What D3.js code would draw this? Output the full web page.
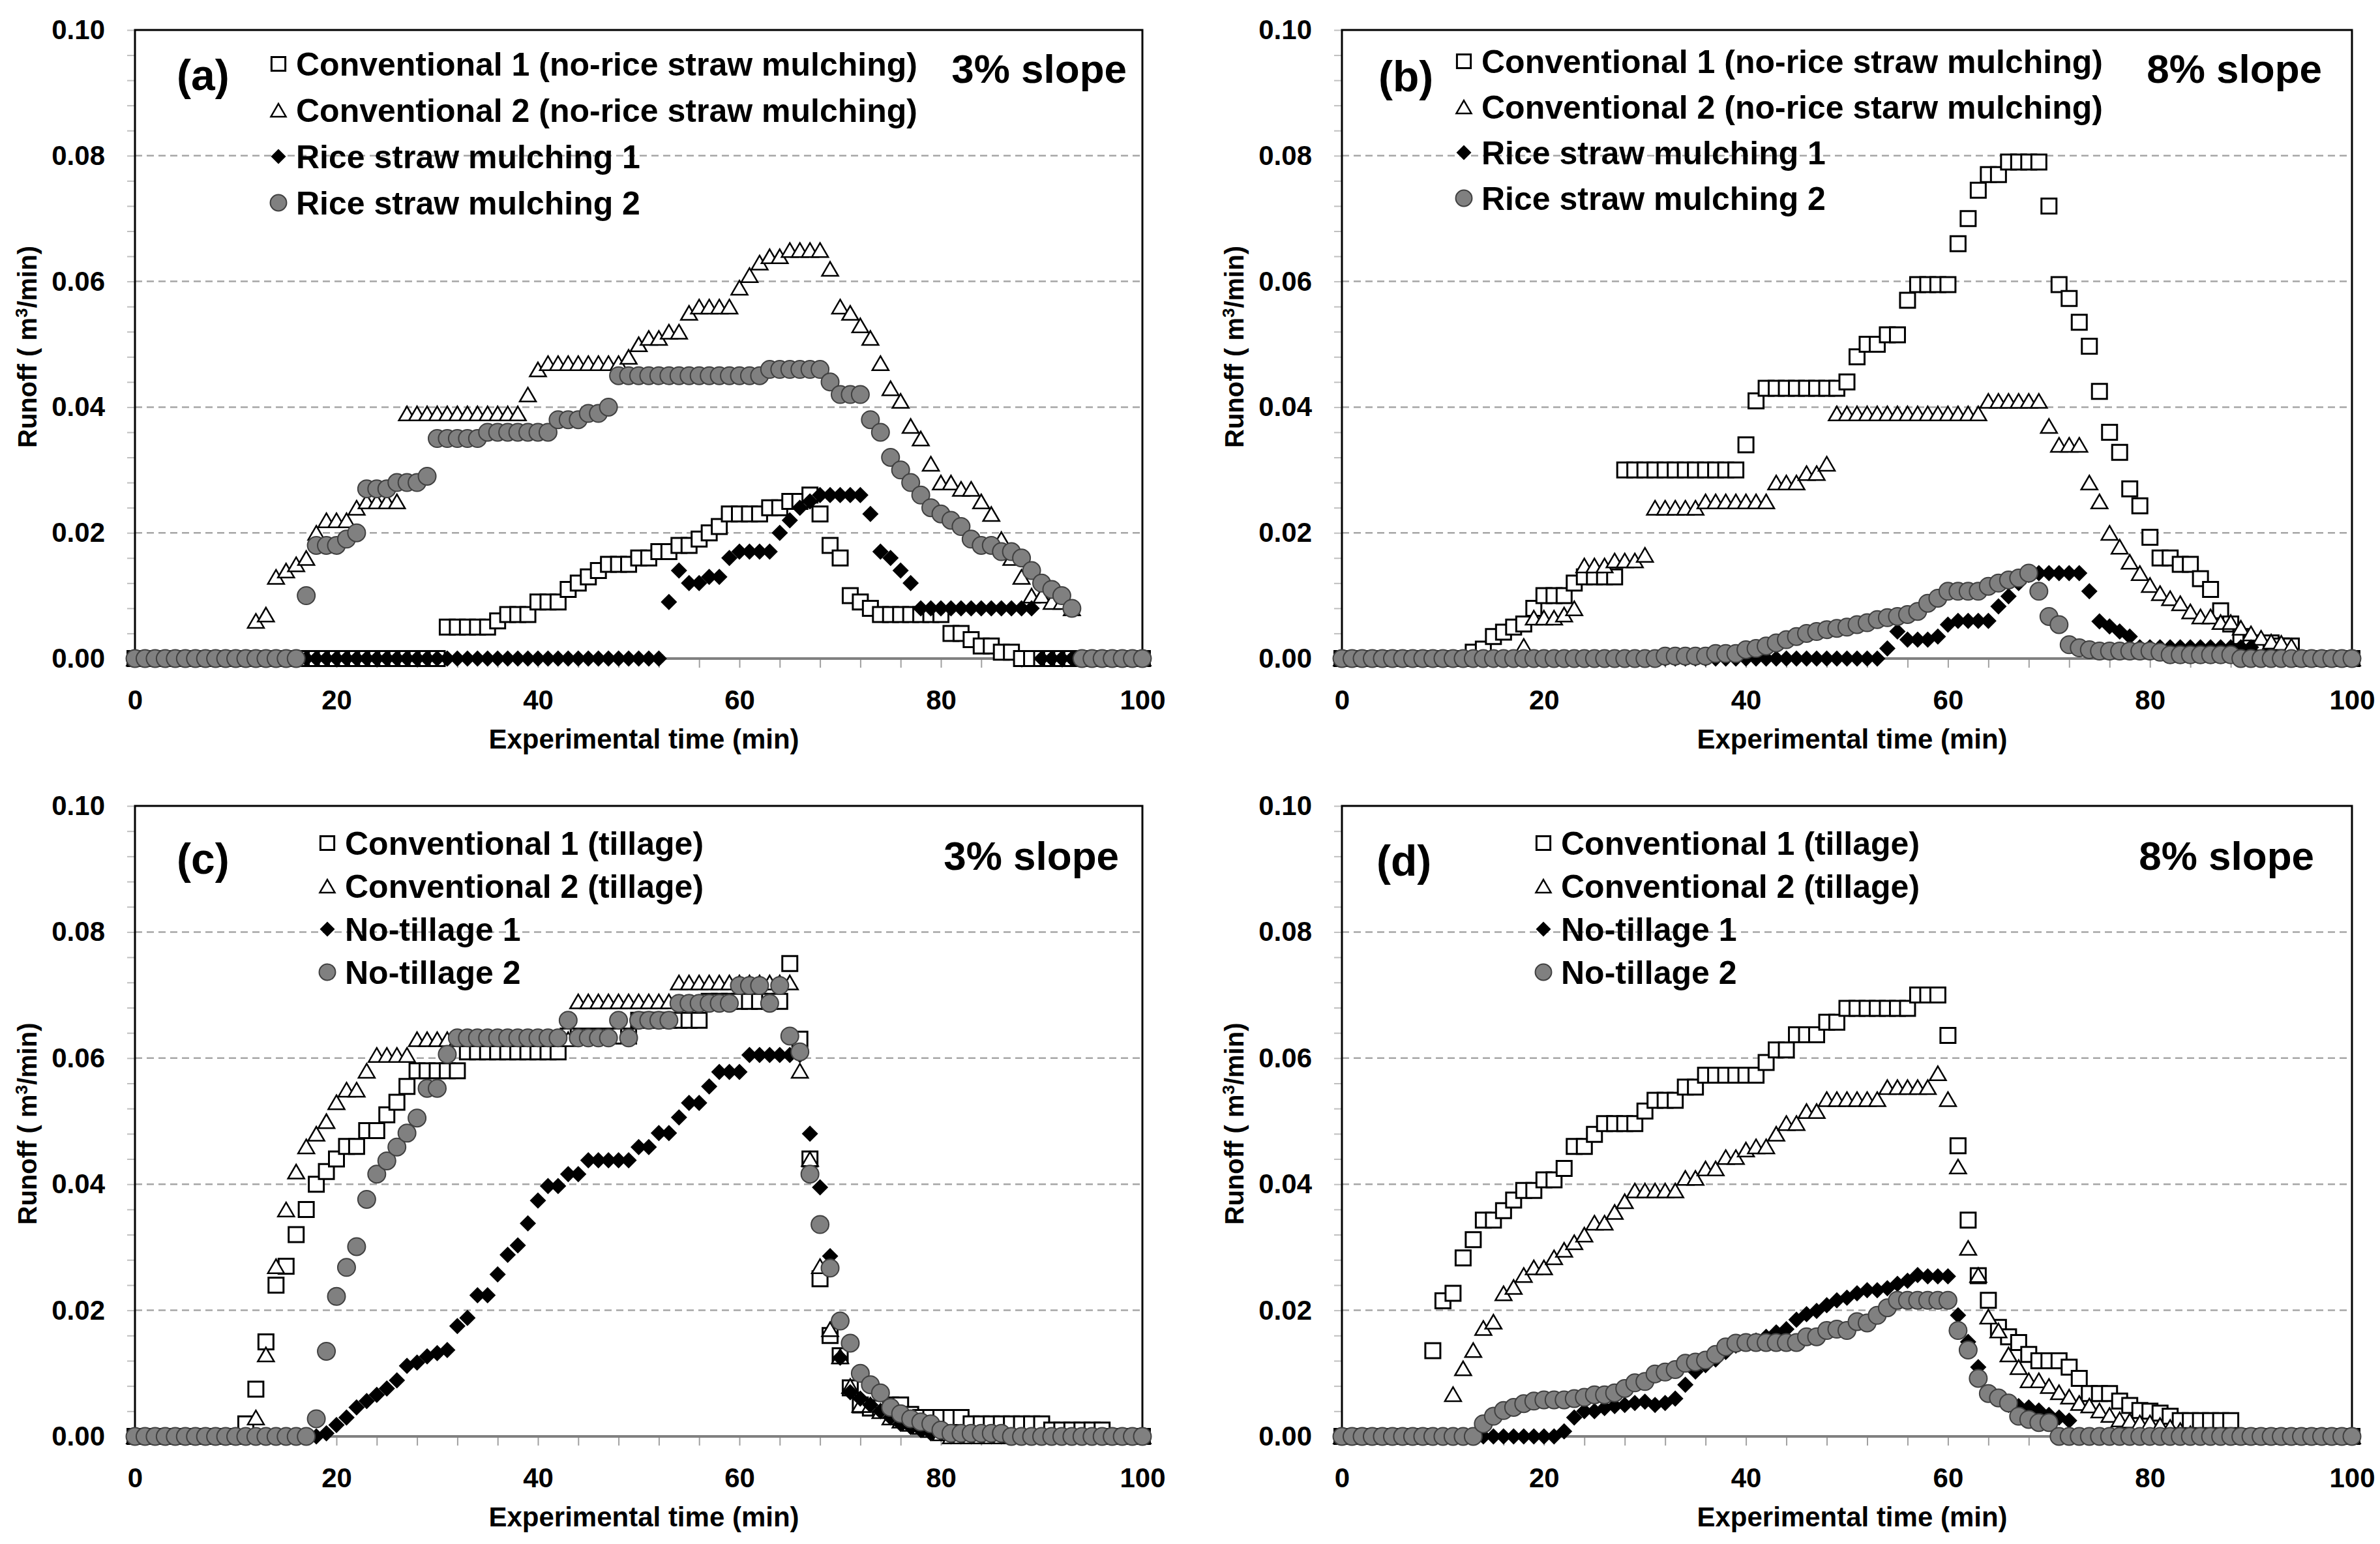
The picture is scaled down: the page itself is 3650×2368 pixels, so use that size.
<!DOCTYPE html>
<html>
<head>
<meta charset="utf-8">
<script src="https://cdn.jsdelivr.net/npm/d3@7"></script>
<style>
html, body { margin: 0; padding: 0; background: #fff; }
svg { display: block; font-family: "Liberation Sans", Arial, sans-serif; font-weight: bold; }
</style>
</head>
<body>
<svg id="chart" width="3650" height="2368"></svg>
<script>
// sampling times, one reading per minute
const minutes = d3.range(0, 101);

// ---- (a) 3% slope, rice straw mulching ----
const aConv1 = [
  0,0,0,0,0,0,0,0,0,0,
  0,0,0,0,0,0,0,0,0,0,
  0,0,0,0,0,0,0,0,0,0,
  0,.005,.005,.005,.005,.005,.006,.007,.007,.007,
  .009,.009,.009,.011,.012,.013,.014,.015,.015,.015,
  .016,.016,.017,.017,.018,.018,.019,.020,.021,.023,
  .023,.023,.023,.024,.024,.025,.025,.026,.023,.018,
  .016,.010,.009,.008,.007,.007,.007,.007,.007,.007,
  .007,.004,.004,.003,.002,.002,.001,.001,0,0,
  0,0,0,0,0,0,0,0,0,0,0];
const aConv2 = [
  0,0,0,0,0,0,0,0,0,0,
  0,0,.006,.007,.013,.014,.015,.016,.020,.022,
  .022,.022,.024,.025,.025,.025,.025,.039,.039,.039,
  .039,.039,.039,.039,.039,.039,.039,.039,.039,.042,
  .046,.047,.047,.047,.047,.047,.047,.047,.047,.048,
  .050,.051,.051,.052,.052,.055,.056,.056,.056,.056,
  .059,.061,.063,.064,.064,.065,.065,.065,.065,.062,
  .056,.055,.053,.051,.047,.043,.041,.037,.035,.031,
  .028,.028,.027,.027,.025,.023,.019,.016,.013,.010,
  .010,.009,.009,.008,0,0,0,0,0,0,0];
const aRsm1 = [
  0,0,0,0,0,0,0,0,0,0,
  0,0,0,0,0,0,0,0,0,0,
  0,0,0,0,0,0,0,0,0,0,
  0,0,0,0,0,0,0,0,0,0,
  0,0,0,0,0,0,0,0,0,0,
  0,0,0,.009,.014,.012,.012,.013,.013,.016,
  .017,.017,.017,.017,.020,.022,.024,.025,.026,.026,
  .026,.026,.026,.023,.017,.016,.014,.012,.008,.008,
  .008,.008,.008,.008,.008,.008,.008,.008,.008,.008,
  0,0,0,0,0,0,0,0,0,0,0];
const aRsm2 = [
  0,0,0,0,0,0,0,0,0,0,
  0,0,0,0,0,0,0,.010,.018,.018,
  .018,.019,.020,.027,.027,.027,.028,.028,.028,.029,
  .035,.035,.035,.035,.035,.036,.036,.036,.036,.036,
  .036,.036,.038,.038,.038,.039,.039,.040,.045,.045,
  .045,.045,.045,.045,.045,.045,.045,.045,.045,.045,
  .045,.045,.045,.046,.046,.046,.046,.046,.046,.044,
  .042,.042,.042,.038,.036,.032,.030,.028,.026,.024,
  .023,.022,.021,.019,.018,.018,.017,.017,.016,.014,
  .012,.011,.010,.008,0,0,0,0,0,0,0];

// ---- (b) 8% slope, rice straw mulching ----
const bConv1 = [
  0,0,0,0,0,0,0,0,0,0,
  0,0,0,.001,.0015,.0035,.0042,.005,.0055,.008,
  .010,.010,.010,.012,.013,.013,.013,.013,.030,.030,
  .030,.030,.030,.030,.030,.030,.030,.030,.030,.030,
  .034,.041,.043,.043,.043,.043,.043,.043,.043,.043,
  .044,.048,.050,.050,.0515,.0515,.057,.0595,.0595,.0595,
  .0595,.066,.070,.0745,.077,.077,.079,.079,.079,.079,
  .072,.0595,.0573,.0535,.0497,.0425,.036,.0328,.027,.0243,
  .0193,.016,.016,.015,.015,.0127,.011,.0076,.0055,.0035,
  .0025,.0025,.0025,.002,.002,0,0,0,0,0,0];
const bConv2 = [
  0,0,0,0,0,0,0,0,0,0,
  0,0,0,0,0,0,0,0,.002,.0065,
  .0065,.0065,.007,.008,.0148,.0148,.0148,.0156,.0156,.0156,
  .0165,.024,.024,.024,.024,.024,.025,.025,.025,.025,
  .025,.025,.025,.028,.028,.028,.0295,.0295,.031,.039,
  .039,.039,.039,.039,.039,.039,.039,.039,.039,.039,
  .039,.039,.039,.039,.041,.041,.041,.041,.041,.041,
  .037,.034,.034,.034,.028,.025,.020,.0178,.0154,.0136,
  .0117,.0104,.0096,.0088,.0075,.0067,.0067,.0058,.0058,.0049,
  .004,.0033,.0027,.0025,.002,0,0,0,0,0,0];
const bRsm1 = [
  0,0,0,0,0,0,0,0,0,0,
  0,0,0,0,0,0,0,0,0,0,
  0,0,0,0,0,0,0,0,0,0,
  0,0,0,0,0,0,0,0,0,0,
  0,0,0,0,0,0,0,0,0,0,
  0,0,0,0,.0016,.0043,.003,.003,.003,.0035,
  .0054,.006,.006,.006,.006,.0083,.0099,.012,.0133,.0136,
  .0136,.0136,.0136,.0136,.0107,.0059,.0051,.0043,.0035,.0018,
  .0018,.0018,.0018,.0018,.0018,.0018,.0018,.0018,.0018,.0018,
  .0018,0,0,0,0,0,0,0,0,0,0];
const bRsm2 = [
  0,0,0,0,0,0,0,0,0,0,
  0,0,0,0,0,0,0,0,0,0,
  0,0,0,0,0,0,0,0,0,0,
  0,0,.0004,.0004,.0004,.0004,.0004,.0008,.0008,.0008,
  .0014,.0016,.002,.0025,.003,.0035,.004,.0043,.0046,.0048,
  .005,.0054,.0057,.0062,.0065,.0067,.007,.0075,.0088,.0096,
  .0107,.0107,.0107,.0107,.0115,.012,.0125,.0128,.0136,.0107,
  .0067,.0054,.0022,.0017,.0014,.0012,.0012,.0012,.0012,.0012,
  .0012,.001,.0006,.0006,.0006,.0006,.0006,.0006,.0006,0,
  0,0,0,0,0,0,0,0,0,0,0];

// ---- (c) 3% slope, tillage ----
const cConv1 = [
  0,0,0,0,0,0,0,0,0,0,
  0,.002,.0075,.015,.024,.027,.032,.036,.040,.042,
  .044,.046,.046,.0485,.0485,.051,.053,.0555,.058,.058,
  .058,.058,.058,.061,.061,.061,.061,.061,.061,.061,
  .061,.061,.061,.0635,.0635,.0635,.0635,.0635,.0635,.0635,
  .066,.066,.066,.066,.066,.066,.066,.069,.069,.069,
  .069,.069,.069,.069,.069,.075,.063,.044,.025,.016,
  .0128,.0077,.005,.0045,.0045,.005,.005,.0035,.003,.003,
  .003,.003,.003,.002,.002,.002,.002,.002,.002,.002,
  .002,.001,.001,.001,.001,.001,.001,0,0,0,0];
const cConv2 = [
  0,0,0,0,0,0,0,0,0,0,
  0,0,.003,.013,.027,.036,.042,.046,.048,.050,
  .053,.055,.055,.058,.0605,.0605,.0605,.0605,.063,.063,
  .063,.063,.063,.063,.063,.063,.063,.063,.063,.063,
  .063,.063,.063,.063,.069,.069,.069,.069,.069,.069,
  .069,.069,.069,.069,.072,.072,.072,.072,.072,.072,
  .072,.072,.072,.072,.072,.072,.058,.044,.027,.017,
  .0127,.008,.005,.005,.004,.003,.0025,.002,.0015,.001,
  .0005,0,0,0,0,0,0,0,0,0,
  0,0,0,0,0,0,0,0,0,0,0];
const cNt1 = [
  0,0,0,0,0,0,0,0,0,0,
  0,0,0,0,0,0,0,0,0,.0005,
  .0018,.003,.0046,.0056,.0066,.0076,.0089,.0112,.0117,.0127,
  .0132,.0137,.0175,.0188,.0224,.0224,.0257,.0288,.0303,.0338,
  .0374,.0397,.0397,.0416,.0416,.0438,.0438,.0438,.0438,.0438,
  .0459,.0459,.0481,.0481,.0506,.0529,.0529,.0555,.0578,.0578,
  .0578,.0605,.0605,.0605,.0605,.0605,.0605,.048,.0395,.0286,
  .0125,.007,.006,.005,.004,.003,.002,.0015,.001,.0005,
  .0005,0,0,0,0,0,0,0,0,0,
  0,0,0,0,0,0,0,0,0,0,0];
const cNt2 = [
  0,0,0,0,0,0,0,0,0,0,
  0,0,0,0,0,0,0,0,.0028,.0135,
  .0222,.0268,.0301,.0376,.0416,.0437,.0459,.0481,.0505,.0552,
  .0552,.0606,.0632,.0632,.0632,.0632,.0632,.0632,.0632,.0632,
  .0632,.0632,.0632,.066,.0632,.0632,.0632,.0632,.066,.0632,
  .066,.066,.066,.066,.0687,.0687,.0687,.0687,.0687,.0687,
  .0715,.0715,.0715,.0687,.0715,.0635,.061,.0416,.0336,.0267,
  .0183,.0148,.010,.0082,.0069,.0046,.0036,.0028,.0023,.002,
  .001,.0005,.0005,.0005,.0005,.0005,.0005,0,0,0,
  0,0,0,0,0,0,0,0,0,0,0];

// ---- (d) 8% slope, tillage ----
const dConv1 = [
  0,0,0,0,0,0,0,0,0,.0136,
  .0215,.0227,.0283,.0312,.0343,.0343,.0358,.0375,.039,.039,
  .0407,.0407,.0425,.046,.046,.0479,.0496,.0496,.0496,.0496,
  .0516,.0533,.0533,.0533,.0554,.0554,.0573,.0573,.0573,.0573,
  .0573,.0573,.0593,.0613,.0613,.0637,.0637,.0637,.0657,.0657,
  .0679,.0679,.0679,.0679,.0679,.0679,.0679,.070,.070,.070,
  .0636,.0461,.0343,.0255,.0216,.0173,.0158,.0149,.013,.012,
  .012,.012,.011,.0092,.0068,.0068,.0068,.0056,.0049,.0041,
  .004,.0037,.0032,.0025,.0025,.0025,.0025,.0025,.0025,0,
  0,0,0,0,0,0,0,0,0,0,0];
const dConv2 = [
  0,0,0,0,0,0,0,0,0,0,
  0,.0067,.0108,.0137,.0172,.0182,.0227,.0237,.0256,.0268,
  .0268,.0284,.0296,.0308,.032,.0339,.0339,.0356,.0373,.039,
  .039,.039,.039,.039,.041,.041,.0425,.0425,.0443,.0443,
  .0455,.046,.046,.048,.0497,.0497,.0516,.0516,.0535,.0535,
  .0535,.0535,.0535,.0535,.0554,.0554,.0554,.0554,.0554,.0576,
  .0535,.0428,.0299,.0256,.019,.0168,.013,.011,.0089,.0089,
  .008,.007,.0063,.0053,.0049,.0041,.0034,.0027,.0025,.0022,
  .0022,.0018,.0015,.001,.0005,0,0,0,0,0,
  0,0,0,0,0,0,0,0,0,0,0];
const dNt1 = [
  0,0,0,0,0,0,0,0,0,0,
  0,0,0,0,0,0,0,0,0,0,
  0,0,.0008,.003,.004,.004,.0045,.0048,.005,.0053,
  .0055,.005,.0053,.006,.0082,.0103,.0113,.0122,.0134,.0144,
  .015,.0152,.0158,.0165,.017,.0185,.0194,.0199,.0208,.0216,
  .022,.0227,.0232,.0232,.0235,.0242,.0247,.0256,.0254,.0254,
  .0254,.0192,.015,.011,.007,.006,.005,.0048,.0046,.0041,
  .0034,.003,.0025,0,0,0,0,0,0,0,
  0,0,0,0,0,0,0,0,0,0,
  0,0,0,0,0,0,0,0,0,0,0];
const dNt2 = [
  0,0,0,0,0,0,0,0,0,0,
  0,0,0,0,.002,.0032,.0041,.0046,.0052,.0056,
  .0058,.0058,.0058,.006,.0062,.0066,.0066,.0069,.0076,.0085,
  .0087,.0099,.0102,.0106,.0116,.0118,.0121,.013,.0142,.0148,
  .0149,.0149,.0149,.0149,.0149,.0149,.0158,.0158,.0168,.017,
  .0168,.0182,.018,.0192,.0204,.0216,.0216,.0216,.0216,.0216,
  .0216,.0168,.0137,.0092,.0068,.0061,.0053,.0032,.0027,.0022,
  .0022,0,0,0,0,0,0,0,0,0,
  0,0,0,0,0,0,0,0,0,0,
  0,0,0,0,0,0,0,0,0,0,0];

const mulchNames = ["Conventional 1 (no-rice straw mulching)", "Conventional 2 (no-rice straw mulching)",
                    "Rice straw mulching 1", "Rice straw mulching 2"];
const mulchNamesB = ["Conventional 1 (no-rice straw mulching)", "Conventional 2 (no-rice starw mulching)",
                     "Rice straw mulching 1", "Rice straw mulching 2"];
const tillNames = ["Conventional 1 (tillage)", "Conventional 2 (tillage)", "No-tillage 1", "No-tillage 2"];

const yTicks = [0, 0.02, 0.04, 0.06, 0.08, 0.10];
const xTicks = [0, 20, 40, 60, 80, 100];

const panels = [
  { tag: "(a)", slope: "3% slope", names: mulchNames, series: [aConv1, aConv2, aRsm1, aRsm2] },
  { tag: "(b)", slope: "8% slope", names: mulchNamesB, series: [bConv1, bConv2, bRsm1, bRsm2] },
  { tag: "(c)", slope: "3% slope", names: tillNames, series: [cConv1, cConv2, cNt1, cNt2] },
  { tag: "(d)", slope: "8% slope", names: tillNames, series: [dConv1, dConv2, dNt1, dNt2] }
];

// layout for each panel (pixels)
const frames = [
  { left: 207,  right: 1752, top: 46,   bottom: 1010, legX: 427,  legY: 98,   legGap: 71, tagX: 271,  tagY: 138,  slopeX: 1728, slopeY: 127 },
  { left: 2058, right: 3607, top: 46,   bottom: 1010, legX: 2245, legY: 94,   legGap: 70, tagX: 2114, tagY: 140,  slopeX: 3561, slopeY: 127 },
  { left: 207,  right: 1752, top: 1236, bottom: 2203, legX: 502,  legY: 1293, legGap: 66, tagX: 271,  tagY: 1340, slopeX: 1716, slopeY: 1334 },
  { left: 2058, right: 3607, top: 1236, bottom: 2203, legX: 2367, legY: 1293, legGap: 66, tagX: 2111, tagY: 1343, slopeX: 3549, slopeY: 1334 }
];

const diamond = { draw(ctx, size) { const h = Math.sqrt(size / 2); ctx.moveTo(0, -h); ctx.lineTo(h, 0); ctx.lineTo(0, h); ctx.lineTo(-h, 0); ctx.closePath(); } };
const triangle = { draw(ctx, size) { const s = Math.sqrt(size); const hgt = s * 0.86;
  ctx.moveTo(0, -hgt / 2); ctx.lineTo(s / 2, hgt / 2); ctx.lineTo(-s / 2, hgt / 2); ctx.closePath(); } };

const markStyles = [
  { type: d3.symbolSquare, size: 23 * 23, fill: "#fff", stroke: "#000", sw: 3 },
  { type: triangle, size: 25 * 25, fill: "#fff", stroke: "#000", sw: 2.5 },
  { type: diamond, size: 2 * 12.5 * 12.5, fill: "#000", stroke: "none", sw: 0 },
  { type: d3.symbolCircle, size: Math.PI * 13.5 * 13.5, fill: "#808080", stroke: "#404040", sw: 2 }
];

const svg = d3.select("#chart");

panels.forEach((p, i) => {
  const f = frames[i];
  const x = d3.scaleLinear().domain([0, 100]).range([f.left, f.right]);
  const y = d3.scaleLinear().domain([0, 0.1]).range([f.bottom, f.top]);
  const g = svg.append("g");

  // dashed gridlines
  g.selectAll(".grid").data(yTicks.filter(v => v > 0 && v < 0.1)).join("line")
    .attr("x1", f.left).attr("x2", f.right)
    .attr("y1", d => y(d)).attr("y2", d => y(d))
    .attr("stroke", "#a6a6a6").attr("stroke-width", 2.5).attr("stroke-dasharray", "11,7");

  // minor ticks
  g.append("g").attr("transform", `translate(${f.left},0)`)
    .call(d3.axisLeft(y).tickValues(d3.range(0, 0.1001, 0.004)).tickSize(12).tickFormat(""))
    .call(a => a.select(".domain").remove())
    .call(a => a.selectAll("line").attr("stroke", "#bfbfbf").attr("stroke-width", 2));
  g.append("g").attr("transform", `translate(0,${f.bottom})`)
    .call(d3.axisBottom(x).tickValues(d3.range(0, 101, 4)).tickSize(14).tickFormat(""))
    .call(a => a.select(".domain").remove())
    .call(a => a.selectAll("line").attr("stroke", "#a0a0a0").attr("stroke-width", 2));

  // frame + bottom axis line
  g.append("rect").attr("x", f.left).attr("y", f.top)
    .attr("width", f.right - f.left).attr("height", f.bottom - f.top)
    .attr("fill", "none").attr("stroke", "#000").attr("stroke-width", 3);
  g.append("line").attr("x1", f.left).attr("x2", f.right).attr("y1", f.bottom).attr("y2", f.bottom)
    .attr("stroke", "#808080").attr("stroke-width", 4);

  // tick labels
  g.append("g").attr("transform", `translate(${f.left},0)`)
    .call(d3.axisLeft(y).tickValues(yTicks).tickSize(0).tickPadding(46).tickFormat(d3.format(".2f")))
    .call(a => a.select(".domain").remove())
    .call(a => a.selectAll("text").attr("font-size", 42).attr("font-weight", "bold")
      .attr("font-family", "Liberation Sans, Arial, sans-serif").attr("fill", "#000"));
  g.append("g").attr("transform", `translate(0,${f.bottom})`)
    .call(d3.axisBottom(x).tickValues(xTicks).tickSize(0).tickPadding(48).tickFormat(d3.format("d")))
    .call(a => a.select(".domain").remove())
    .call(a => a.selectAll("text").attr("font-size", 42).attr("font-weight", "bold")
      .attr("font-family", "Liberation Sans, Arial, sans-serif").attr("fill", "#000"));

  // axis titles
  g.append("text").attr("x", (f.left + f.right) / 2 + 8).attr("y", f.bottom + 138)
    .attr("text-anchor", "middle").attr("font-size", 42).text("Experimental time (min)");
  const yt = g.append("text")
    .attr("transform", `translate(${f.left - 151},${(f.top + f.bottom) / 2 + 4}) rotate(-90)`)
    .attr("text-anchor", "middle").attr("font-size", 40);
  yt.append("tspan").text("Runoff ( m");
  yt.append("tspan").attr("font-size", 26).attr("dy", -14).text("3");
  yt.append("tspan").attr("dy", 14).text("/min)");

  // markers, first series at the back
  p.series.forEach((vals, k) => {
    const st = markStyles[k];
    const sym = d3.symbol().type(st.type).size(st.size);
    g.append("g").selectAll("path").data(minutes).join("path")
      .attr("transform", t => `translate(${x(t)},${y(vals[t])})`)
      .attr("d", sym)
      .attr("fill", st.fill).attr("stroke", st.stroke).attr("stroke-width", st.sw);
  });

  // legend
  p.names.forEach((name, k) => {
    const st = markStyles[k];
    const ly = f.legY + k * f.legGap;
    g.append("path").attr("transform", `translate(${f.legX},${ly})`)
      .attr("d", d3.symbol().type(st.type).size(st.size * 0.85))
      .attr("fill", st.fill).attr("stroke", st.stroke).attr("stroke-width", st.sw);
    g.append("text").attr("x", f.legX + 27).attr("y", ly + 18)
      .attr("font-size", 50).text(name);
  });

  g.append("text").attr("x", f.tagX).attr("y", f.tagY).attr("font-size", 66).text(p.tag);
  g.append("text").attr("x", f.slopeX).attr("y", f.slopeY).attr("text-anchor", "end")
    .attr("font-size", 62).text(p.slope);
});
</script>
</body>
</html>
